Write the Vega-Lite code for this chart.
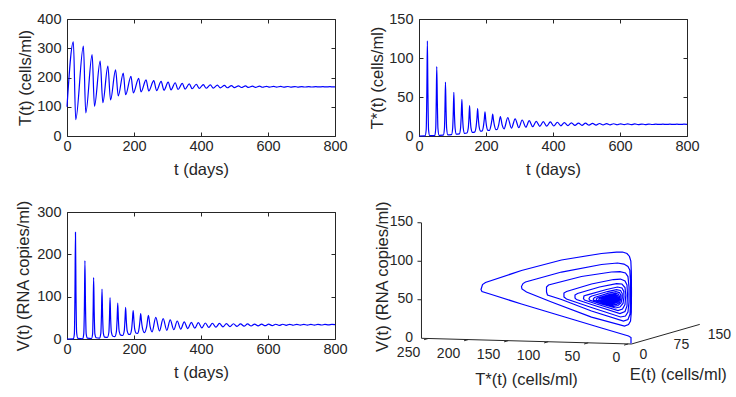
{
  "$schema": "https://vega.github.io/schema/vega-lite/v6.json",
  "background": "white",
  "padding": {"left": 14, "top": 10, "right": 0, "bottom": 0},
  "columns": 2,
  "spacing": {"row": 76, "column": 84},
  "bounds": "flush",
  "datasets": {
    "Tdata": [
      {"t":0,"T":100},{"t":19,"T":322},{"t":26,"T":56},{"t":49,"T":307},{"t":56,"T":79},{"t":75,"T":278},{"t":82,"T":102},{"t":99,"T":256},{"t":107,"T":114},{"t":122,"T":239},{"t":130,"T":123},{"t":145,"T":226},{"t":153,"T":137},{"t":168,"T":215},{"t":175,"T":141},{"t":191,"T":204},{"t":198,"T":147},{"t":214,"T":197},{"t":221,"T":151},{"t":236,"T":192},{"t":244,"T":154},
      {"t":259,"T":189},{"t":267.5,"T":155},{"t":281,"T":186.5},{"t":289.5,"T":156.5},{"t":302,"T":184},{"t":310.5,"T":158},{"t":323,"T":182},{"t":331.5,"T":159},{"t":344,"T":180},{"t":352.5,"T":160.5},{"t":365,"T":178.5},{"t":373.5,"T":161.5},{"t":386,"T":177},{"t":394.5,"T":162.5},{"t":407,"T":175.8},{"t":415.5,"T":163.3},{"t":428,"T":174.7},{"t":436.5,"T":164},{"t":449,"T":173.7},{"t":457.5,"T":164.6},{"t":470,"T":172.9},{"t":478.5,"T":165},{"t":491,"T":172.2},{"t":499.5,"T":165.4},{"t":512,"T":171.6},{"t":520.5,"T":165.8},{"t":533,"T":171.1},{"t":541.5,"T":166.1},{"t":554,"T":170.7},{"t":562.5,"T":166.4},{"t":575,"T":170.3},{"t":583.5,"T":166.6},{"t":596,"T":170},{"t":604.5,"T":166.8},{"t":617,"T":169.7},{"t":625.5,"T":167},{"t":638,"T":169.5},{"t":646.5,"T":167.15},{"t":659,"T":169.3},{"t":667.5,"T":167.3},{"t":680,"T":169.1},{"t":688.5,"T":167.4},{"t":701,"T":168.95},{"t":709.5,"T":167.5},{"t":722,"T":168.8},{"t":730.5,"T":167.6},{"t":743,"T":168.7},{"t":751.5,"T":167.7},{"t":764,"T":168.6},{"t":772.5,"T":167.75},{"t":785,"T":168.5},{"t":793.5,"T":167.8},{"t":800,"T":168.1}
    ],
    "TSdata": [
      {"t":0,"Ts":0},{"t":18,"Ts":0.2},{"t":21.5,"Ts":8},{"t":23.5,"Ts":60},{"t":25,"Ts":122},{"t":26.5,"Ts":60},{"t":28.5,"Ts":8},{"t":32,"Ts":0.4},
      {"t":47,"Ts":0.5},{"t":50,"Ts":10},{"t":51.5,"Ts":45},{"t":53,"Ts":89},{"t":54.7,"Ts":45},{"t":56.5,"Ts":10},{"t":60,"Ts":0.8},
      {"t":72.5,"Ts":1},{"t":76,"Ts":10},{"t":77.5,"Ts":35},{"t":79,"Ts":69},{"t":80.7,"Ts":35},{"t":82.5,"Ts":10},{"t":86,"Ts":1.5},
      {"t":97,"Ts":1.8},{"t":100.5,"Ts":10},{"t":102.2,"Ts":28},{"t":104,"Ts":56},{"t":105.8,"Ts":28},{"t":107.8,"Ts":10},{"t":111.5,"Ts":2.3},
      {"t":120.5,"Ts":2.8},{"t":124,"Ts":10},{"t":126,"Ts":25},{"t":128,"Ts":47},{"t":130,"Ts":25},{"t":132.2,"Ts":10},{"t":136,"Ts":3.3},
      {"t":143,"Ts":3.8},{"t":147,"Ts":10},{"t":149,"Ts":22},{"t":151,"Ts":39},{"t":153,"Ts":22},{"t":155.3,"Ts":10},{"t":159.5,"Ts":4.6},
      {"t":166,"Ts":5},{"t":170.5,"Ts":12},{"t":173,"Ts":23},{"t":175,"Ts":35},{"t":177,"Ts":23},{"t":179.5,"Ts":12},{"t":184,"Ts":6.2},
      {"t":188,"Ts":6.3},{"t":192.5,"Ts":13},{"t":195,"Ts":22},{"t":197,"Ts":31},{"t":199,"Ts":22},{"t":201.5,"Ts":13},{"t":206,"Ts":7.2},
      {"t":210.5,"Ts":7.3},{"t":215,"Ts":14},{"t":217.8,"Ts":21},{"t":220,"Ts":28},{"t":222.2,"Ts":21},{"t":225,"Ts":14},{"t":230,"Ts":8.2},
      {"t":233,"Ts":8.3},{"t":238,"Ts":14.5},{"t":243,"Ts":25},{"t":248,"Ts":14.5},{"t":254,"Ts":9.2},
      {"t":265,"Ts":23.5},{"t":276,"Ts":10},{"t":287,"Ts":22},{"t":298,"Ts":10.7},{"t":308,"Ts":20.5},{"t":319,"Ts":11.3},{"t":329,"Ts":19.6},{"t":339.5,"Ts":11.9},{"t":350,"Ts":18.8},{"t":360.5,"Ts":12.4},{"t":371,"Ts":18.4},{"t":381.5,"Ts":12.6},{"t":392,"Ts":18},{"t":402.5,"Ts":12.8},{"t":413,"Ts":17.6},{"t":423.5,"Ts":13.1},{"t":434,"Ts":17.2},{"t":444.5,"Ts":13.35},{"t":455,"Ts":16.9},{"t":465.5,"Ts":13.55},{"t":476,"Ts":16.6},{"t":486.5,"Ts":13.75},{"t":497,"Ts":16.4},{"t":507.5,"Ts":13.9},{"t":518,"Ts":16.2},{"t":528.5,"Ts":14.05},{"t":539,"Ts":16},{"t":549.5,"Ts":14.2},{"t":560,"Ts":15.85},{"t":570.5,"Ts":14.3},{"t":581,"Ts":15.72},{"t":591.5,"Ts":14.4},{"t":602,"Ts":15.6},{"t":612.5,"Ts":14.5},{"t":623,"Ts":15.5},{"t":633.5,"Ts":14.58},{"t":644,"Ts":15.42},{"t":654.5,"Ts":14.65},{"t":665,"Ts":15.35},{"t":675.5,"Ts":14.7},{"t":686,"Ts":15.3},{"t":696.5,"Ts":14.75},{"t":707,"Ts":15.25},{"t":717.5,"Ts":14.79},{"t":728,"Ts":15.2},{"t":738.5,"Ts":14.82},{"t":749,"Ts":15.17},{"t":759.5,"Ts":14.85},{"t":770,"Ts":15.14},{"t":780.5,"Ts":14.87},{"t":791,"Ts":15.12},{"t":800,"Ts":14.95}
    ],
    "Vdata": [
      {"t":0,"V":0},{"t":19,"V":0.3},{"t":22,"V":12},{"t":23.8,"V":110},{"t":25.3,"V":252},{"t":26.8,"V":110},{"t":28.8,"V":15},{"t":32.5,"V":1.5},
      {"t":47,"V":0.6},{"t":50,"V":12},{"t":52,"V":80},{"t":53.5,"V":185},{"t":55.2,"V":80},{"t":57.3,"V":12},{"t":61,"V":2},
      {"t":73,"V":1.2},{"t":76.5,"V":12},{"t":78,"V":65},{"t":79.5,"V":145},{"t":81.2,"V":65},{"t":83.2,"V":12},{"t":87,"V":3},
      {"t":97,"V":2.2},{"t":101,"V":14},{"t":102.8,"V":55},{"t":104.5,"V":118},{"t":106.3,"V":55},{"t":108.5,"V":14},{"t":112.5,"V":4.5},
      {"t":120.5,"V":3.8},{"t":125,"V":16},{"t":126.7,"V":48},{"t":128.5,"V":98},{"t":130.3,"V":48},{"t":132.5,"V":16},{"t":137,"V":6.5},
      {"t":143,"V":5.8},{"t":147.5,"V":18},{"t":149.5,"V":45},{"t":151.5,"V":85},{"t":153.5,"V":45},{"t":155.8,"V":18},{"t":160.5,"V":9},
      {"t":166,"V":8.3},{"t":171,"V":20},{"t":173,"V":44},{"t":175,"V":74.5},{"t":177,"V":44},{"t":179.5,"V":20},{"t":184.5,"V":11},
      {"t":188,"V":10.8},{"t":193,"V":24},{"t":195.3,"V":45},{"t":197.5,"V":67},{"t":199.7,"V":45},{"t":202,"V":24},{"t":207,"V":13.5},
      {"t":210.5,"V":13.2},{"t":215.5,"V":27},{"t":217.8,"V":43},{"t":220,"V":60},{"t":222.2,"V":43},{"t":225,"V":27},{"t":231,"V":15.2},
      {"t":238,"V":30},{"t":243,"V":56},{"t":248,"V":30},{"t":254,"V":17},
      {"t":265,"V":51},{"t":276,"V":19},{"t":287,"V":48},{"t":298,"V":20.5},{"t":308,"V":45},{"t":319,"V":22},{"t":329,"V":42.5},{"t":339.5,"V":23.3},{"t":350,"V":40.5},{"t":360.5,"V":24.5},{"t":371,"V":39.5},{"t":381.5,"V":25.5},{"t":392,"V":38.5},{"t":402.5,"V":26.5},{"t":413,"V":37.8},{"t":423.5,"V":27.3},{"t":434,"V":37.2},{"t":444.5,"V":28},{"t":455,"V":36.7},{"t":465.5,"V":28.7},{"t":476,"V":36.3},{"t":486.5,"V":29.3},{"t":497,"V":36},{"t":507.5,"V":29.8},{"t":518,"V":35.7},{"t":528.5,"V":30.3},{"t":539,"V":35.5},{"t":549.5,"V":30.7},{"t":560,"V":35.3},{"t":570.5,"V":31.1},{"t":581,"V":35.1},{"t":591.5,"V":31.4},{"t":602,"V":35},{"t":612.5,"V":31.7},{"t":623,"V":34.9},{"t":633.5,"V":32},{"t":644,"V":34.8},{"t":654.5,"V":32.3},{"t":665,"V":34.7},{"t":675.5,"V":32.5},{"t":686,"V":34.6},{"t":696.5,"V":32.7},{"t":707,"V":34.55},{"t":717.5,"V":32.9},{"t":728,"V":34.5},{"t":738.5,"V":33},{"t":749,"V":34.45},{"t":759.5,"V":33.1},{"t":770,"V":34.4},{"t":780.5,"V":33.2},{"t":791,"V":34.35},{"t":800,"V":33.8}
    ],
    "traj": [
      {"i":1,"Ts":-3.5,"E":0,"V":0.6},{"i":2,"Ts":-3.5,"E":0,"V":8.4},{"i":3,"Ts":-0.4,"E":0,"V":10.3},{"i":4,"Ts":33.4,"E":0,"V":19.7},{"i":5,"Ts":83.4,"E":0,"V":33.9},{"i":6,"Ts":133.4,"E":0,"V":48.1},{"i":7,"Ts":170.9,"E":0,"V":59.3},{"i":8,"Ts":182.8,"E":0,"V":62.9},{"i":9,"Ts":184,"E":0,"V":65.5},{"i":10,"Ts":182.1,"E":0,"V":72},
      {"i":11,"Ts":178.4,"E":0,"V":74.7},{"i":12,"Ts":133.4,"E":0,"V":91.6},{"i":13,"Ts":83.4,"E":0,"V":106.6},{"i":14,"Ts":33.4,"E":0,"V":116.5},{"i":15,"Ts":14.6,"E":0,"V":118.9},{"i":16,"Ts":7.1,"E":0,"V":119.2},{"i":17,"Ts":1.5,"E":0,"V":117.4},{"i":18,"Ts":-1.6,"E":0,"V":113.6},{"i":19,"Ts":-3.3,"E":0,"V":107.8},{"i":20,"Ts":-3.9,"E":0,"V":93.5},
      {"i":21,"Ts":-4.1,"E":0,"V":67.5},{"i":22,"Ts":-3.9,"E":0,"V":41.5},{"i":23,"Ts":-2.9,"E":0,"V":29.8},{"i":24,"Ts":-0.4,"E":0,"V":25.2},{"i":25,"Ts":4.6,"E":0,"V":23.1},{"i":26,"Ts":45.9,"E":0,"V":33.6},{"i":27,"Ts":95.9,"E":0,"V":51.7},{"i":28,"Ts":127.1,"E":0,"V":63.8},{"i":29,"Ts":132.8,"E":0,"V":67.6},{"i":30,"Ts":133.4,"E":0,"V":70.8},
      {"i":31,"Ts":131.5,"E":0,"V":74.7},{"i":32,"Ts":128.4,"E":0,"V":76.8},{"i":33,"Ts":83.4,"E":0,"V":91},{"i":34,"Ts":33.4,"E":0,"V":102.2},{"i":35,"Ts":13.4,"E":0,"V":104.7},{"i":36,"Ts":5.3,"E":0,"V":103.6},{"i":37,"Ts":0.3,"E":0,"V":100.5},{"i":38,"Ts":-2,"E":0,"V":96},{"i":39,"Ts":-2.9,"E":0,"V":80.5},{"i":40,"Ts":-2.9,"E":0,"V":54.5},
      {"i":41,"Ts":-2.3,"E":0,"V":38.9},{"i":42,"Ts":0.3,"E":0,"V":31.7},{"i":43,"Ts":5.9,"E":0,"V":29.6},{"i":44,"Ts":45.9,"E":0,"V":41.4},{"i":45,"Ts":83.4,"E":0,"V":55.3},{"i":46,"Ts":100.9,"E":0,"V":60.7},{"i":47,"Ts":102.1,"E":0,"V":64.5},{"i":48,"Ts":102.1,"E":0,"V":71},{"i":49,"Ts":99.6,"E":0,"V":73.7},{"i":50,"Ts":58.4,"E":0,"V":85.9},
      {"i":51,"Ts":20.9,"E":0,"V":92.8},{"i":52,"Ts":10.3,"E":0,"V":93.7},{"i":53,"Ts":3.4,"E":0,"V":92},{"i":54,"Ts":0.3,"E":0,"V":87.5},{"i":55,"Ts":-1,"E":0,"V":73.9},{"i":56,"Ts":-1,"E":0,"V":54.4},{"i":57,"Ts":0.3,"E":0,"V":41.4},{"i":58,"Ts":3.4,"E":0,"V":36.1},{"i":59,"Ts":9.6,"E":0,"V":34.7},{"i":60,"Ts":45.9,"E":0,"V":46},
      {"i":61,"Ts":77.1,"E":0,"V":56.1},{"i":62,"Ts":80.3,"E":0,"V":58.6},{"i":63,"Ts":80.3,"E":0,"V":63.8},{"i":64,"Ts":77.1,"E":0,"V":65.9},{"i":65,"Ts":45.9,"E":0,"V":76.5},{"i":66,"Ts":18.4,"E":0,"V":83.1},{"i":67,"Ts":9.6,"E":0,"V":84},{"i":68,"Ts":4,"E":0,"V":81.6},{"i":69,"Ts":1.5,"E":0,"V":76.5},{"i":70,"Ts":0.9,"E":0,"V":64.8},
      {"i":71,"Ts":1.5,"E":0,"V":49.2},{"i":72,"Ts":4,"E":0,"V":42},{"i":73,"Ts":10.3,"E":0,"V":39.2},{"i":74,"Ts":45.9,"E":0,"V":49.9},{"i":75,"Ts":64.6,"E":0,"V":55.8},{"i":76,"Ts":66.5,"E":0,"V":57.7},{"i":77,"Ts":66.5,"E":0,"V":61.6},{"i":78,"Ts":63.4,"E":0,"V":63.7},{"i":79,"Ts":35.9,"E":0,"V":72.9},{"i":80,"Ts":14.6,"E":0,"V":78},
      {"i":81,"Ts":7.8,"E":0,"V":77.6},{"i":82,"Ts":4,"E":0,"V":73.1},{"i":83,"Ts":3,"E":0,"V":63.4},{"i":84,"Ts":4,"E":0,"V":51.1},{"i":85,"Ts":7.1,"E":0,"V":45.1},{"i":86,"Ts":12.8,"E":0,"V":43},{"i":87,"Ts":39.6,"E":0,"V":50.7},{"i":88,"Ts":54.6,"E":0,"V":55.5},{"i":89,"Ts":55.9,"E":0,"V":57.4},{"i":90,"Ts":55.3,"E":0,"V":60.6},
      {"i":91,"Ts":52.1,"E":0,"V":62},{"i":92,"Ts":27.1,"E":0,"V":69.9},{"i":93,"Ts":13.4,"E":0,"V":73.5},{"i":94,"Ts":7.8,"E":0,"V":72.4},{"i":95,"Ts":5.5,"E":0,"V":67.9},{"i":96,"Ts":5.3,"E":0,"V":60.8},{"i":97,"Ts":6.5,"E":0,"V":52.3},{"i":98,"Ts":10.3,"E":0,"V":47.6},{"i":99,"Ts":15.9,"E":0,"V":46.2},{"i":100,"Ts":35.9,"E":0,"V":51.7},
      {"i":101,"Ts":48.4,"E":0,"V":55.6},{"i":102,"Ts":49,"E":0,"V":57.6},{"i":103,"Ts":47.8,"E":0,"V":59.6},{"i":104,"Ts":45.3,"E":0,"V":60.9},{"i":105,"Ts":25.9,"E":0,"V":67.3},{"i":106,"Ts":14.6,"E":0,"V":70.2},{"i":107,"Ts":9.6,"E":0,"V":69.1},{"i":108,"Ts":7.5,"E":0,"V":65.2},{"i":109,"Ts":7.4,"E":0,"V":59.4},{"i":110,"Ts":9,"E":0,"V":52.9},
      {"i":111,"Ts":12.8,"E":0,"V":49.5},{"i":112,"Ts":17.8,"E":0,"V":48.3},{"i":113,"Ts":33.4,"E":0,"V":52.7},{"i":114,"Ts":43.4,"E":0,"V":55.8},{"i":115,"Ts":43.6,"E":0,"V":57.3},{"i":116,"Ts":42.1,"E":0,"V":59.1},{"i":117,"Ts":24.6,"E":0,"V":65.2},{"i":118,"Ts":15.3,"E":0,"V":67.5},{"i":119,"Ts":10.9,"E":0,"V":66.4},{"i":120,"Ts":9.3,"E":0,"V":63.2},
      {"i":121,"Ts":9.3,"E":0,"V":58.1},{"i":122,"Ts":10.9,"E":0,"V":53.5},{"i":123,"Ts":14.6,"E":0,"V":51},{"i":124,"Ts":19,"E":0,"V":50.2},{"i":125,"Ts":32.1,"E":0,"V":53.5},{"i":126,"Ts":39.6,"E":0,"V":55.9},{"i":127,"Ts":39.9,"E":0,"V":57.2},{"i":128,"Ts":38.4,"E":0,"V":58.5},{"i":129,"Ts":24,"E":0,"V":63.5},{"i":130,"Ts":16.1,"E":0,"V":65.3},
      {"i":131,"Ts":12.4,"E":0,"V":64.5},{"i":132,"Ts":11,"E":0,"V":61.6},{"i":133,"Ts":11,"E":0,"V":57.7},{"i":134,"Ts":12.5,"E":0,"V":54.3},{"i":135,"Ts":15.9,"E":0,"V":52.5},{"i":136,"Ts":19.6,"E":0,"V":51.9},{"i":137,"Ts":30.9,"E":0,"V":54.5},{"i":138,"Ts":36.5,"E":0,"V":56},{"i":139,"Ts":36.8,"E":0,"V":57},{"i":140,"Ts":35.4,"E":0,"V":58.1},
      {"i":141,"Ts":23.4,"E":0,"V":62.2},{"i":142,"Ts":16.9,"E":0,"V":63.6},{"i":143,"Ts":13.6,"E":0,"V":62.9},{"i":144,"Ts":12.5,"E":0,"V":60.6},{"i":145,"Ts":12.5,"E":0,"V":57.3},{"i":146,"Ts":13.9,"E":0,"V":54.8},{"i":147,"Ts":16.9,"E":0,"V":53.4},{"i":148,"Ts":20.3,"E":0,"V":53.1},{"i":149,"Ts":29.6,"E":0,"V":55.1},{"i":150,"Ts":34,"E":0,"V":56.1},
      {"i":151,"Ts":34.1,"E":0,"V":56.8},{"i":152,"Ts":33,"E":0,"V":57.8},{"i":153,"Ts":22.8,"E":0,"V":61.2},{"i":154,"Ts":17.5,"E":0,"V":62.2},{"i":155,"Ts":14.8,"E":0,"V":61.7},{"i":156,"Ts":13.9,"E":0,"V":59.7},{"i":157,"Ts":13.9,"E":0,"V":57},{"i":158,"Ts":15,"E":0,"V":55},{"i":159,"Ts":17.6,"E":0,"V":53.9},{"i":160,"Ts":20.6,"E":0,"V":53.8},
      {"i":161,"Ts":28.4,"E":0,"V":55.4},{"i":162,"Ts":31.8,"E":0,"V":56.1},{"i":163,"Ts":31.8,"E":0,"V":56.8},{"i":164,"Ts":30.9,"E":0,"V":57.4},{"i":165,"Ts":22.1,"E":0,"V":60.3},{"i":166,"Ts":18,"E":0,"V":61.1},{"i":167,"Ts":15.8,"E":0,"V":60.6},{"i":168,"Ts":15,"E":0,"V":59.2},{"i":169,"Ts":15,"E":0,"V":56.9},{"i":170,"Ts":16,"E":0,"V":55.3},
      {"i":171,"Ts":18.3,"E":0,"V":54.4},{"i":172,"Ts":20.9,"E":0,"V":54.4},{"i":173,"Ts":27.1,"E":0,"V":55.7},{"i":174,"Ts":29.9,"E":0,"V":56.3},{"i":175,"Ts":29.1,"E":0,"V":57.4},{"i":176,"Ts":21.8,"E":0,"V":59.7},{"i":177,"Ts":18.4,"E":0,"V":60.3},{"i":178,"Ts":16.6,"E":0,"V":59.8},{"i":179,"Ts":16,"E":0,"V":58.6},{"i":180,"Ts":16,"E":0,"V":56.8},
      {"i":181,"Ts":16.9,"E":0,"V":55.5},{"i":182,"Ts":18.8,"E":0,"V":54.8},{"i":183,"Ts":21,"E":0,"V":54.9},{"i":184,"Ts":26.3,"E":0,"V":56},{"i":185,"Ts":28.4,"E":0,"V":56.9},{"i":186,"Ts":27.8,"E":0,"V":57.3},{"i":187,"Ts":21.5,"E":0,"V":59},{"i":188,"Ts":18.8,"E":0,"V":59.6},{"i":189,"Ts":17.4,"E":0,"V":59.1},{"i":190,"Ts":16.9,"E":0,"V":58.2},
      {"i":191,"Ts":16.9,"E":0,"V":56.8},{"i":192,"Ts":17.6,"E":0,"V":55.7},{"i":193,"Ts":19.3,"E":0,"V":55.2},{"i":194,"Ts":21.3,"E":0,"V":55.2},{"i":195,"Ts":25.5,"E":0,"V":56.2},{"i":196,"Ts":27.1,"E":0,"V":56.8},{"i":197,"Ts":26.5,"E":0,"V":57.2},{"i":198,"Ts":21.4,"E":0,"V":58.6},{"i":199,"Ts":19.1,"E":0,"V":59.1},{"i":200,"Ts":18,"E":0,"V":58.7},
      {"i":201,"Ts":17.6,"E":0,"V":57.9},{"i":202,"Ts":17.6,"E":0,"V":56.8},{"i":203,"Ts":18.3,"E":0,"V":56},{"i":204,"Ts":19.6,"E":0,"V":55.6},{"i":205,"Ts":21.4,"E":0,"V":55.6},{"i":206,"Ts":24.6,"E":0,"V":56.3},{"i":207,"Ts":25.6,"E":0,"V":56.8},{"i":208,"Ts":25.1,"E":0,"V":57.2},{"i":209,"Ts":21.4,"E":0,"V":58.1},{"i":210,"Ts":19.6,"E":0,"V":58.4},
      {"i":211,"Ts":18.6,"E":0,"V":57.9},{"i":212,"Ts":18.5,"E":0,"V":57},{"i":213,"Ts":19.4,"E":0,"V":56.2},{"i":214,"Ts":21.1,"E":0,"V":56.2},{"i":215,"Ts":23.4,"E":0,"V":56.6},{"i":216,"Ts":24,"E":0,"V":57},{"i":217,"Ts":21.5,"E":0,"V":57.7},{"i":218,"Ts":19.9,"E":0,"V":57.5},{"i":219,"Ts":20.3,"E":0,"V":56.7},{"i":220,"Ts":21.8,"E":0,"V":56.5},{"i":221,"Ts":22.1,"E":0,"V":57}
    ],
    "axes3d": [
      {"Ts":258.4,"E":0,"V":0,"Ts2":-4.1,"E2":0,"V2":0},
      {"Ts":-4.1,"E":0,"V":0,"Ts2":-4.1,"E2":150,"V2":0},
      {"Ts":258.4,"E":0,"V":0,"Ts2":258.4,"E2":0,"V2":150},
      {"Ts":0,"E":0,"V":0,"Ts2":0,"E2":-9,"V2":0},
      {"Ts":50,"E":0,"V":0,"Ts2":50,"E2":-9,"V2":0},
      {"Ts":100,"E":0,"V":0,"Ts2":100,"E2":-9,"V2":0},
      {"Ts":150,"E":0,"V":0,"Ts2":150,"E2":-9,"V2":0},
      {"Ts":200,"E":0,"V":0,"Ts2":200,"E2":-9,"V2":0},
      {"Ts":250,"E":0,"V":0,"Ts2":250,"E2":-9,"V2":0},
      {"Ts":258.4,"E":0,"V":50,"Ts2":263.4,"E2":0,"V2":50},
      {"Ts":258.4,"E":0,"V":100,"Ts2":263.4,"E2":0,"V2":100},
      {"Ts":258.4,"E":0,"V":150,"Ts2":263.4,"E2":0,"V2":150}
    ],
    "tsLabels": [
      {"Ts":250,"E":0,"V":0,"label":"250"},{"Ts":200,"E":0,"V":0,"label":"200"},{"Ts":150,"E":0,"V":0,"label":"150"},{"Ts":100,"E":0,"V":0,"label":"100"},{"Ts":50,"E":0,"V":0,"label":"50"},{"Ts":0,"E":0,"V":0,"label":"0"}
    ],
    "vLabels": [
      {"Ts":258.4,"E":0,"V":0,"label":"0"},{"Ts":258.4,"E":0,"V":50,"label":"50"},{"Ts":258.4,"E":0,"V":100,"label":"100"},{"Ts":258.4,"E":0,"V":150,"label":"150"}
    ],
    "eLabels": [
      {"Ts":-4.1,"E":0,"V":0,"label":"0"},{"Ts":-4.1,"E":75,"V":0,"label":"75"},{"Ts":-4.1,"E":150,"V":0,"label":"150"}
    ]
  },
  "concat": [
    {
      "width": 268, "height": 117,
      "data": {"name": "Tdata"},
      "layer": [
        {"mark": {"type": "line", "color": "#0000ff", "strokeWidth": 1.2, "interpolate": "monotone"},
         "encoding": {
           "x": {"field": "t", "type": "quantitative", "scale": {"domain": [0, 800], "nice": false, "zero": false},
                 "axis": {"values": [0, 200, 400, 600, 800], "title": "t (days)", "labelPadding": 7, "titlePadding": 9}},
           "y": {"field": "T", "type": "quantitative", "scale": {"domain": [0, 400], "nice": false, "zero": false},
                 "axis": {"values": [0, 100, 200, 300, 400], "title": "T(t) (cells/ml)", "labelPadding": 10, "titlePadding": 3}}
         }},
        {"mark": {"type": "line", "opacity": 0},
         "encoding": {
           "x": {"field": "t", "type": "quantitative", "scale": {"domain": [0, 800], "nice": false, "zero": false},
                 "axis": {"orient": "top", "values": [0, 200, 400, 600, 800], "labels": false, "title": null}},
           "y": {"field": "T", "type": "quantitative", "scale": {"domain": [0, 400], "nice": false, "zero": false},
                 "axis": {"orient": "right", "values": [0, 100, 200, 300, 400], "labels": false, "title": null}}
         }}
      ],
      "resolve": {"axis": {"x": "independent", "y": "independent"}}
    },
    {
      "width": 268, "height": 117,
      "data": {"name": "TSdata"},
      "layer": [
        {"mark": {"type": "line", "color": "#0000ff", "strokeWidth": 1.2, "interpolate": "monotone"},
         "encoding": {
           "x": {"field": "t", "type": "quantitative", "scale": {"domain": [0, 800], "nice": false, "zero": false},
                 "axis": {"values": [0, 200, 400, 600, 800], "title": "t (days)", "labelPadding": 7, "titlePadding": 9}},
           "y": {"field": "Ts", "type": "quantitative", "scale": {"domain": [0, 150], "nice": false, "zero": false},
                 "axis": {"values": [0, 50, 100, 150], "title": "T*(t) (cells/ml)", "labelPadding": 10, "titlePadding": 3}}
         }},
        {"mark": {"type": "line", "opacity": 0},
         "encoding": {
           "x": {"field": "t", "type": "quantitative", "scale": {"domain": [0, 800], "nice": false, "zero": false},
                 "axis": {"orient": "top", "values": [0, 200, 400, 600, 800], "labels": false, "title": null}},
           "y": {"field": "Ts", "type": "quantitative", "scale": {"domain": [0, 150], "nice": false, "zero": false},
                 "axis": {"orient": "right", "values": [0, 50, 100, 150], "labels": false, "title": null}}
         }}
      ],
      "resolve": {"axis": {"x": "independent", "y": "independent"}}
    },
    {
      "width": 268, "height": 127,
      "data": {"name": "Vdata"},
      "layer": [
        {"mark": {"type": "line", "color": "#0000ff", "strokeWidth": 1.2, "interpolate": "monotone"},
         "encoding": {
           "x": {"field": "t", "type": "quantitative", "scale": {"domain": [0, 800], "nice": false, "zero": false},
                 "axis": {"values": [0, 200, 400, 600, 800], "title": "t (days)", "labelPadding": 7, "titlePadding": 9}},
           "y": {"field": "V", "type": "quantitative", "scale": {"domain": [0, 300], "nice": false, "zero": false},
                 "axis": {"values": [0, 100, 200, 300], "title": "V(t) (RNA copies/ml)", "labelPadding": 10, "titlePadding": 5.5}}
         }},
        {"mark": {"type": "line", "opacity": 0},
         "encoding": {
           "x": {"field": "t", "type": "quantitative", "scale": {"domain": [0, 800], "nice": false, "zero": false},
                 "axis": {"orient": "top", "values": [0, 200, 400, 600, 800], "labels": false, "title": null}},
           "y": {"field": "V", "type": "quantitative", "scale": {"domain": [0, 300], "nice": false, "zero": false},
                 "axis": {"orient": "right", "values": [0, 100, 200, 300], "labels": false, "title": null}}
         }}
      ],
      "resolve": {"axis": {"x": "independent", "y": "independent"}}
    },
    {
      "width": 300, "height": 132,
      "view": {"stroke": null},
      "layer": [
        {"data": {"name": "axes3d"},
         "transform": [
           {"calculate": "-datum.Ts + 0.569 * datum.E", "as": "u1"},
           {"calculate": "datum.V + 0.0282 * datum.Ts + 0.17 * datum.E", "as": "w1"},
           {"calculate": "-datum.Ts2 + 0.569 * datum.E2", "as": "u2"},
           {"calculate": "datum.V2 + 0.0282 * datum.Ts2 + 0.17 * datum.E2", "as": "w2"}
         ],
         "mark": {"type": "rule", "color": "#262626", "strokeWidth": 1},
         "encoding": {
           "x": {"field": "u1", "type": "quantitative", "scale": {"domain": [-261.5, 113.5], "nice": false, "zero": false}, "axis": null},
           "y": {"field": "w1", "type": "quantitative", "scale": {"domain": [-0.1, 171.33], "nice": false, "zero": false}, "axis": null},
           "x2": {"field": "u2"},
           "y2": {"field": "w2"}
         }},
        {"data": {"name": "traj"},
         "transform": [
           {"calculate": "-datum.Ts + 0.569 * datum.E", "as": "u"},
           {"calculate": "datum.V + 0.0282 * datum.Ts + 0.17 * datum.E", "as": "w"}
         ],
         "mark": {"type": "line", "color": "#0000ff", "strokeWidth": 1.2},
         "encoding": {
           "x": {"field": "u", "type": "quantitative", "scale": {"domain": [-261.5, 113.5], "nice": false, "zero": false}, "axis": null},
           "y": {"field": "w", "type": "quantitative", "scale": {"domain": [-0.1, 171.33], "nice": false, "zero": false}, "axis": null},
           "order": {"field": "i", "type": "quantitative"}
         }},
        {"data": {"name": "tsLabels"},
         "transform": [
           {"calculate": "-datum.Ts + 0.569 * datum.E", "as": "u"},
           {"calculate": "datum.V + 0.0282 * datum.Ts + 0.17 * datum.E", "as": "w"}
         ],
         "mark": {"type": "text", "align": "right", "baseline": "middle", "dx": -8, "dy": 14.5, "fontSize": 14, "color": "#262626", "font": "Liberation Sans"},
         "encoding": {
           "x": {"field": "u", "type": "quantitative", "scale": {"domain": [-261.5, 113.5], "nice": false, "zero": false}, "axis": null},
           "y": {"field": "w", "type": "quantitative", "scale": {"domain": [-0.1, 171.33], "nice": false, "zero": false}, "axis": null},
           "text": {"field": "label"}
         }},
        {"data": {"name": "vLabels"},
         "transform": [
           {"calculate": "-datum.Ts + 0.569 * datum.E", "as": "u"},
           {"calculate": "datum.V + 0.0282 * datum.Ts + 0.17 * datum.E", "as": "w"}
         ],
         "mark": {"type": "text", "align": "right", "baseline": "middle", "dx": -8.4, "dy": -0.8, "fontSize": 14, "color": "#262626", "font": "Liberation Sans"},
         "encoding": {
           "x": {"field": "u", "type": "quantitative", "scale": {"domain": [-261.5, 113.5], "nice": false, "zero": false}, "axis": null},
           "y": {"field": "w", "type": "quantitative", "scale": {"domain": [-0.1, 171.33], "nice": false, "zero": false}, "axis": null},
           "text": {"field": "label"}
         }},
        {"data": {"name": "eLabels"},
         "transform": [
           {"calculate": "-datum.Ts + 0.569 * datum.E", "as": "u"},
           {"calculate": "datum.V + 0.0282 * datum.Ts + 0.17 * datum.E", "as": "w"}
         ],
         "mark": {"type": "text", "align": "left", "baseline": "middle", "dx": 8, "dy": 11, "fontSize": 14, "color": "#262626", "font": "Liberation Sans"},
         "encoding": {
           "x": {"field": "u", "type": "quantitative", "scale": {"domain": [-261.5, 113.5], "nice": false, "zero": false}, "axis": null},
           "y": {"field": "w", "type": "quantitative", "scale": {"domain": [-0.1, 171.33], "nice": false, "zero": false}, "axis": null},
           "text": {"field": "label"}
         }},
        {"data": {"values": [{"Ts": 127.1, "E": 0, "V": 0, "label": "T*(t) (cells/ml)"}]},
         "transform": [
           {"calculate": "-datum.Ts + 0.569 * datum.E", "as": "u"},
           {"calculate": "datum.V + 0.0282 * datum.Ts + 0.17 * datum.E", "as": "w"}
         ],
         "mark": {"type": "text", "align": "center", "baseline": "middle", "dy": 38.9, "fontSize": 16.5, "color": "#262626", "font": "Liberation Sans"},
         "encoding": {
           "x": {"field": "u", "type": "quantitative", "scale": {"domain": [-261.5, 113.5], "nice": false, "zero": false}, "axis": null},
           "y": {"field": "w", "type": "quantitative", "scale": {"domain": [-0.1, 171.33], "nice": false, "zero": false}, "axis": null},
           "text": {"field": "label"}
         }},
        {"data": {"values": [{"Ts": -4.1, "E": 75, "V": 0, "label": "E(t) (cells/ml)"}]},
         "transform": [
           {"calculate": "-datum.Ts + 0.569 * datum.E", "as": "u"},
           {"calculate": "datum.V + 0.0282 * datum.Ts + 0.17 * datum.E", "as": "w"}
         ],
         "mark": {"type": "text", "align": "center", "baseline": "middle", "dx": 12.6, "dy": 40.8, "fontSize": 16.5, "color": "#262626", "font": "Liberation Sans"},
         "encoding": {
           "x": {"field": "u", "type": "quantitative", "scale": {"domain": [-261.5, 113.5], "nice": false, "zero": false}, "axis": null},
           "y": {"field": "w", "type": "quantitative", "scale": {"domain": [-0.1, 171.33], "nice": false, "zero": false}, "axis": null},
           "text": {"field": "label"}
         }},
        {"data": {"values": [{"Ts": 258.4, "E": 0, "V": 80, "label": "V(t) (RNA copies/ml)"}]},
         "transform": [
           {"calculate": "-datum.Ts + 0.569 * datum.E", "as": "u"},
           {"calculate": "datum.V + 0.0282 * datum.Ts + 0.17 * datum.E", "as": "w"}
         ],
         "mark": {"type": "text", "align": "center", "baseline": "middle", "angle": 270, "dy": -38.7, "fontSize": 16.5, "color": "#262626", "font": "Liberation Sans"},
         "encoding": {
           "x": {"field": "u", "type": "quantitative", "scale": {"domain": [-261.5, 113.5], "nice": false, "zero": false}, "axis": null},
           "y": {"field": "w", "type": "quantitative", "scale": {"domain": [-0.1, 171.33], "nice": false, "zero": false}, "axis": null},
           "text": {"field": "label"}
         }}
      ]
    }
  ],
  "config": {
    "font": "Liberation Sans",
    "view": {"stroke": "#262626", "strokeWidth": 1},
    "axis": {
      "grid": false, "domain": false, "ticks": true, "tickSize": -4, "tickColor": "#262626", "tickWidth": 1,
      "labelColor": "#262626", "titleColor": "#262626", "labelFont": "Liberation Sans", "titleFont": "Liberation Sans",
      "labelFontSize": 14.5, "titleFontSize": 16.5, "titleFontWeight": "normal", "labelFlush": false, "labelOverlap": false
    }
  }
}
